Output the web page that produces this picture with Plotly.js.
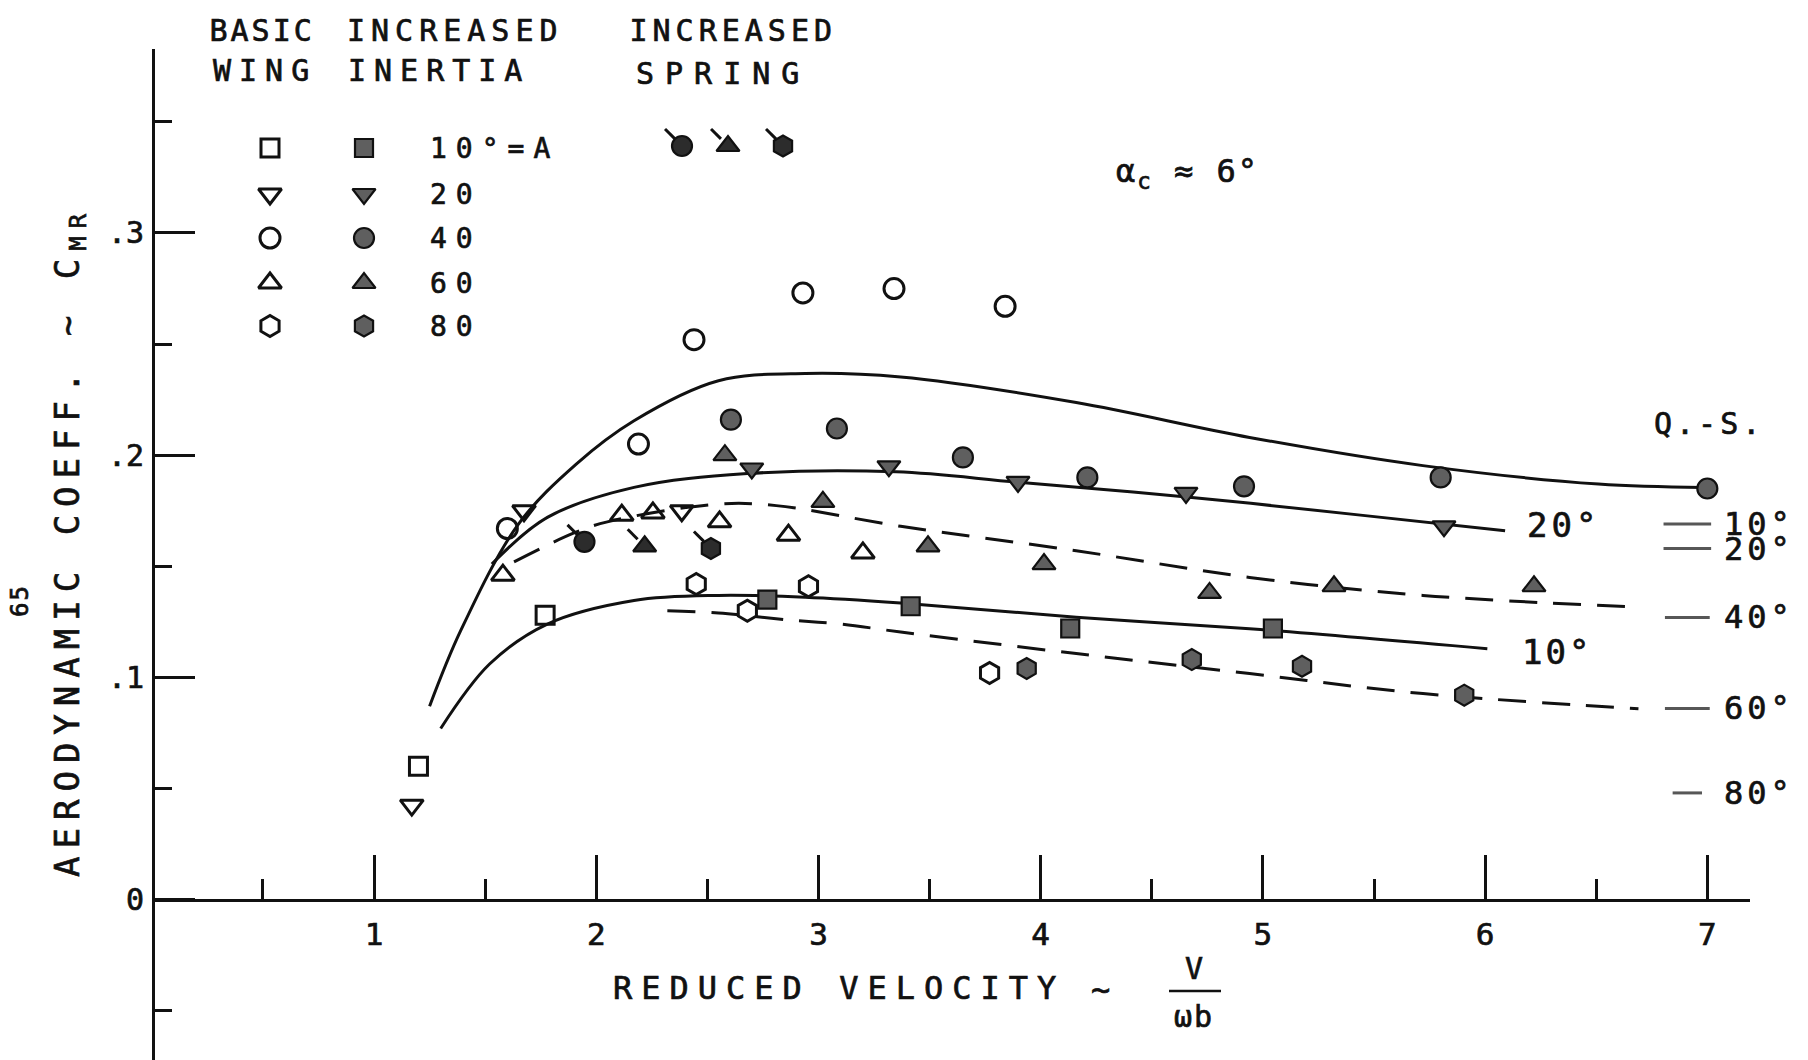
<!DOCTYPE html>
<html>
<head>
<meta charset="utf-8">
<script src="https://cdn.plot.ly/plotly-3.0.1.min.js"></script>
<style>
  html, body { margin: 0; padding: 0; background: #fff; }
  #chart { width: 1808px; height: 1060px; }
  /* heavier, pen-drawn lettering */
  #chart text { stroke: #111; stroke-width: 0.7px; }
</style>
</head>
<body>
<div id="chart"></div>
<script>
// ---------- measured aerodynamic coefficient C_MR vs reduced velocity V/(omega b) ----------
// Basic wing (open symbols)
const basic10X = [1.20, 1.77];
const basic10Y = [0.060, 0.128];
const basic20X = [1.17, 1.675, 2.385];
const basic20Y = [0.0425, 0.175, 0.175];
const basic40X = [1.60, 2.19, 2.44, 2.93, 3.34, 3.84];
const basic40Y = [0.167, 0.205, 0.252, 0.273, 0.275, 0.267];
const basic60X = [1.58, 2.115, 2.255, 2.555, 2.865, 3.20];
const basic60Y = [0.146, 0.173, 0.174, 0.170, 0.164, 0.156];
const basic80X = [2.45, 2.68, 2.955, 3.77];
const basic80Y = [0.142, 0.130, 0.141, 0.102];

// Increased inertia (shaded symbols)
const inertia10X = [2.77, 3.415, 4.133, 5.045];
const inertia10Y = [0.135, 0.132, 0.122, 0.122];
const inertia20X = [2.70, 3.317, 3.898, 4.654, 5.815];
const inertia20Y = [0.194, 0.195, 0.188, 0.183, 0.168];
const inertia40X = [2.606, 3.083, 3.65, 4.21, 4.915, 5.80, 7.0];
const inertia40Y = [0.216, 0.212, 0.199, 0.190, 0.186, 0.190, 0.185];
const inertia60X = [2.579, 3.02, 3.493, 4.015, 4.76, 5.32, 6.22];
const inertia60Y = [0.200, 0.179, 0.159, 0.151, 0.138, 0.141, 0.141];
const inertia80X = [3.937, 4.68, 5.176, 5.906];
const inertia80Y = [0.104, 0.108, 0.105, 0.092];

// Increased spring (flagged shaded symbols): 40, 60, 80 deg
const spring40X = [1.947];
const spring40Y = [0.161];
const spring60X = [2.218];
const spring60Y = [0.159];
const spring80X = [2.516];
const spring80Y = [0.158];

// Faired curves
const fair40X = [1.25, 1.39, 1.65, 1.91, 2.17, 2.55, 2.94, 3.37, 4.16, 4.94, 5.72, 6.51, 6.98];
const fair40Y = [0.087, 0.121, 0.169, 0.196, 0.2155, 0.2335, 0.2368, 0.2352, 0.2237, 0.208, 0.1953, 0.187, 0.1855];
const fair20X = [1.53, 1.78, 2.17, 2.68, 3.35, 3.90, 4.68, 5.46, 6.09];
const fair20Y = [0.151, 0.172, 0.1855, 0.1917, 0.1925, 0.1878, 0.181, 0.1728, 0.166];
const fair10X = [1.30, 1.52, 1.78, 2.17, 2.55, 2.94, 3.37, 4.16, 4.94, 6.01];
const fair10Y = [0.077, 0.106, 0.124, 0.1346, 0.1369, 0.1361, 0.1335, 0.1271, 0.1219, 0.1129];
const fair60X = [1.63, 1.90, 2.05, 2.55, 2.81, 3.37, 4.16, 4.94, 5.72, 6.69];
const fair60Y = [0.152, 0.165, 0.170, 0.178, 0.1773, 0.168, 0.157, 0.145, 0.1369, 0.1316];
const fair80X = [2.32, 2.55, 2.87, 3.10, 3.37, 4.16, 4.94, 5.72, 6.69];
const fair80Y = [0.130, 0.129, 0.1258, 0.124, 0.1204, 0.1107, 0.1017, 0.0927, 0.0859];

// Quasi-steady values
const qsLabels = ['10°', '20°', '40°', '60°', '80°'];
const qsValues = [0.169, 0.158, 0.127, 0.086, 0.048];

// Axis ticks
const xTickVals = [1, 2, 3, 4, 5, 6, 7];
const xTickText = ['1', '2', '3', '4', '5', '6', '7'];
const xMinorVals = [0.5, 1.5, 2.5, 3.5, 4.5, 5.5, 6.5];
const yTickVals = [0, 0.1, 0.2, 0.3];
const yTickText = ['0', '.1', '.2', '.3'];
const yMinorVals = [-0.05, 0.05, 0.15, 0.25, 0.35];

// Key entries
const keyLabels = ['10°=A', '20', '40', '60', '80'];

// ---------- styling ----------
const FONT = 'DejaVu Sans Mono';
const INK = '#111';
const SHADE = '#5f5f5f';
const SPRING_SHADE = '#2c2c2c';
const SYMBOLS = ['square', 'triangle-down', 'circle', 'triangle-up', 'hexagon'];
const SIZES = [18, 20, 20, 20, 21];

function openTrace(x, y, k, xa, ya) {
  return { type: 'scatter', mode: 'markers', x: x, y: y, xaxis: xa || 'x', yaxis: ya || 'y',
    cliponaxis: false, hoverinfo: 'skip',
    marker: { symbol: SYMBOLS[k] + '-open', size: SIZES[k], color: INK, line: { width: 3, color: INK } } };
}
function shadedTrace(x, y, k, xa, ya, fill) {
  return { type: 'scatter', mode: 'markers', x: x, y: y, xaxis: xa || 'x', yaxis: ya || 'y',
    cliponaxis: false, hoverinfo: 'skip',
    marker: { symbol: SYMBOLS[k], size: SIZES[k], color: fill || SHADE, line: { width: 2.2, color: INK } } };
}
function tailTrace(x, y, xa, ya) {
  return { type: 'scatter', mode: 'markers', x: x, y: y, xaxis: xa || 'x', yaxis: ya || 'y',
    cliponaxis: false, hoverinfo: 'skip',
    marker: { symbol: 'line-ns', size: 10, angle: 135, standoff: 17, color: INK,
              line: { width: 3, color: INK } } };
}
function curveTrace(x, y, dash) {
  return { type: 'scatter', mode: 'lines', x: x, y: y, hoverinfo: 'skip',
    line: { color: INK, width: 3, shape: 'spline', smoothing: 1, dash: dash || 'solid' } };
}

const traces = [];
// curves
traces.push(curveTrace(fair40X, fair40Y));
traces.push(curveTrace(fair20X, fair20Y));
traces.push(curveTrace(fair10X, fair10Y));
traces.push(curveTrace(fair60X, fair60Y, '28px,16px'));
traces.push(curveTrace(fair80X, fair80Y, '28px,16px'));

// quasi-steady short dashes
traces.push({ type: 'scatter', mode: 'markers', x: qsValues.map(() => 6.91), y: qsValues,
  cliponaxis: false, hoverinfo: 'skip',
  marker: { symbol: 'line-ew', size: [34, 34, 32, 32, 21], color: INK, line: { width: 3, color: INK } } });

// data points
const basicX = [basic10X, basic20X, basic40X, basic60X, basic80X];
const basicY = [basic10Y, basic20Y, basic40Y, basic60Y, basic80Y];
const inertiaX = [inertia10X, inertia20X, inertia40X, inertia60X, inertia80X];
const inertiaY = [inertia10Y, inertia20Y, inertia40Y, inertia60Y, inertia80Y];
for (let k = 0; k < 5; k++) {
  traces.push(openTrace(basicX[k], basicY[k], k));
  traces.push(shadedTrace(inertiaX[k], inertiaY[k], k));
}
const springX = [spring40X, spring60X, spring80X];
const springY = [spring40Y, spring60Y, spring80Y];
[2, 3, 4].forEach((k, i) => {
  traces.push(tailTrace(springX[i], springY[i]));
  traces.push(shadedTrace(springX[i], springY[i], k, 'x', 'y', SPRING_SHADE));
});

// ---------- key (drawn on a page-pixel overlay) ----------
const KEY_ROWS = [148, 194, 238, 283, 326];
const KEY_COL_BASIC = 270, KEY_COL_INERTIA = 364, KEY_TEXT_X = 428;
for (let k = 0; k < 5; k++) {
  traces.push(openTrace([KEY_COL_BASIC], [KEY_ROWS[k]], k, 'x2', 'y2'));
  traces.push(shadedTrace([KEY_COL_INERTIA], [KEY_ROWS[k]], k, 'x2', 'y2'));
}
const SPRING_KEY_X = [682, 728, 783];
[2, 3, 4].forEach((k, i) => {
  traces.push(tailTrace([SPRING_KEY_X[i]], [146], 'x2', 'y2'));
  traces.push(shadedTrace([SPRING_KEY_X[i]], [146], k, 'x2', 'y2', SPRING_SHADE));
});

// ---------- texts ----------
const annotations = [];
const spacing = [];
function addText(text, x, y, opts, ls) {
  const o = Object.assign({ text: text, x: x, y: y, xref: 'x2', yref: 'y2', showarrow: false,
    xanchor: 'center', yanchor: 'middle', font: { family: FONT, size: 30, color: INK } }, opts || {});
  annotations.push(o);
  spacing.push(ls || 0);
}
function f(size) { return { family: FONT, size: size, color: INK }; }
addText('BASIC', 262, 30, null, 3);
addText('WING', 265, 70, null, 8);
addText('INCREASED', 455, 30, null, 6);
addText('INERTIA', 439, 70, null, 8);
addText('INCREASED', 733, 30, null, 5);
addText('SPRING', 723, 73, null, 11);
keyLabels.forEach((t, k) => addText(t, KEY_TEXT_X, KEY_ROWS[k], { xanchor: 'left', font: f(28) }, 9));
addText('α<sub>c</sub> ≈ 6°', 1114, 173, { xanchor: 'left', font: f(32) }, 2);
addText('Q.-S.', 1709, 423, null, 4);
addText('AERODYNAMIC COEFF. ~ C<sub>MR</sub>', 69, 541, { textangle: -90, font: f(34) }, 8);
addText('REDUCED VELOCITY', 611, 988, { xanchor: 'left', font: f(32) }, 9);
addText('~', 1100, 990, { font: f(32) }, 0);
addText('V', 1194, 968, { font: f(30) }, 0);
addText('ωb', 1194, 1016, { font: f(30) }, 2);
addText('65', 20, 601, { textangle: -90, font: f(24) }, 2);
// curve labels
addText('20°', 6.18, 0.1685, { xref: 'x', yref: 'y', xanchor: 'left', font: f(34) }, 4);
addText('10°', 6.155, 0.1114, { xref: 'x', yref: 'y', xanchor: 'left', font: f(34) }, 3);
// quasi-steady labels
qsLabels.forEach((t, i) => addText(t, 7.066, qsValues[i], { xref: 'x', yref: 'y', xanchor: 'left', font: f(32) }, 4));

const layout = {
  width: 1808, height: 1060,
  margin: { l: 0, r: 0, t: 0, b: 0 },
  paper_bgcolor: '#fff', plot_bgcolor: 'rgba(0,0,0,0)',
  showlegend: false,
  font: { family: FONT, color: INK },
  xaxis: {
    domain: [155 / 1808, 1750 / 1808], range: [0.0144, 7.192],
    anchor: 'free', position: (1060 - 899.5) / 1060,
    showline: true, linecolor: INK, linewidth: 3, showgrid: false, zeroline: false,
    tickmode: 'array', tickvals: xTickVals, ticktext: xTickText,
    ticks: 'inside', ticklen: 44, tickwidth: 3, tickcolor: INK,
    tickfont: f(31), ticklabelstandoff: 6,
    minor: { tickmode: 'array', tickvals: xMinorVals, ticks: 'inside', ticklen: 20, tickwidth: 3, tickcolor: INK, showgrid: false },
    fixedrange: true
  },
  yaxis: {
    domain: [0, (1060 - 49) / 1060], range: [-0.0722, 0.3828],
    anchor: 'x',
    showline: true, linecolor: INK, linewidth: 3, showgrid: false, zeroline: false,
    tickmode: 'array', tickvals: yTickVals, ticktext: yTickText,
    ticks: 'inside', ticklen: 40, tickwidth: 3, tickcolor: INK,
    tickfont: f(30), ticklabelstandoff: 2,
    minor: { tickmode: 'array', tickvals: yMinorVals, ticks: 'inside', ticklen: 17, tickwidth: 3, tickcolor: INK, showgrid: false },
    fixedrange: true
  },
  xaxis2: { domain: [0, 1], range: [0, 1808], anchor: 'y2', visible: false, fixedrange: true },
  yaxis2: { domain: [0, 1], range: [1060, 0], anchor: 'x2', visible: false, fixedrange: true },
  shapes: [
    // fraction bar of V / (omega b)
    { type: 'line', xref: 'x2', yref: 'y2', x0: 1169, x1: 1221, y0: 991, y1: 991, line: { color: INK, width: 2.5 } }
  ],
  annotations: annotations
};

Plotly.newPlot('chart', traces, layout, { staticPlot: true, displayModeBar: false }).then(function () {
  // widen the lettering; left-anchored labels keep their left edge
  document.querySelectorAll('#chart g.annotation').forEach(function (g) {
    const i = +g.getAttribute('data-index');
    const t = g.querySelector('text');
    if (!t || !spacing[i]) return;
    const before = t.getBBox();
    t.style.letterSpacing = spacing[i] + 'px';
    const after = t.getBBox();
    if (annotations[i].xanchor === 'left') {
      t.setAttribute('x', (+t.getAttribute('x') || 0) + (before.x - after.x));
    }
  });
});
</script>
</body>
</html>
